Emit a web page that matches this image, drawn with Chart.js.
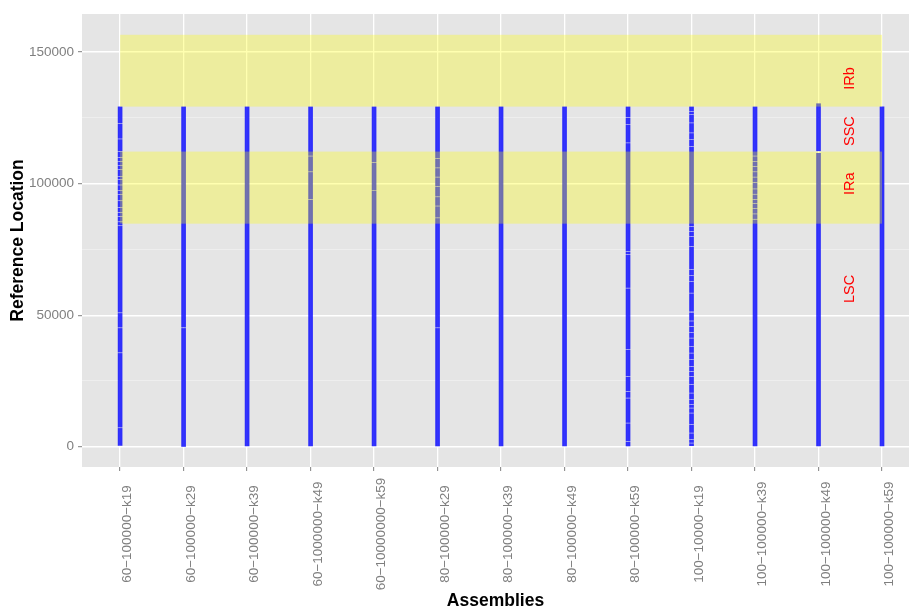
<!DOCTYPE html>
<html>
<head>
<meta charset="utf-8">
<script src="https://cdn.jsdelivr.net/npm/chart.js@4.4.1/dist/chart.umd.min.js"></script>
<style>
  html, body { margin: 0; padding: 0; background: #ffffff; }
  canvas { display: block; }
</style>
</head>
<body>
<canvas id="chart" width="909" height="612"></canvas>
<script>
// Assemblies (k-mer settings) aligned against the chloroplast reference
const assemblies = [
  '60−100000−k19', '60−100000−k29', '60−100000−k39', '60−1000000−k49',
  '60−10000000−k59', '80−100000−k29', '80−100000−k39', '80−100000−k49',
  '80−100000−k59', '100−10000−k19', '100−100000−k39', '100−100000−k49',
  '100−100000−k59'
];

// First and last reference base covered by each assembly
const alignStart = [500, 100, 300, 300, 300, 300, 300, 300, 300, 400, 300, 300, 300];
const alignEnd = [129200, 129200, 129200, 129200, 129200, 129200, 129200, 129200,
                  129200, 129200, 129200, 130400, 129200];

// Reference positions where one contig alignment ends and the next begins
const breaks60k19 = [7200, 35700, 45200, 50900, 84000, 85500, 87500, 89000, 90900, 93500,
                     95800, 97500, 99500, 101500, 102800, 105300, 107000, 108500, 109900,
                     112300, 117000, 122800];
const breaks60k29 = [45200];
const breaks60k39 = [];
const breaks60k49 = [94000, 104500, 110500];
const breaks60k59 = [97500, 108000];
const breaks80k29 = [45200, 87000, 91500, 95000, 99000, 102500, 106000, 109500];
const breaks80k39 = [];
const breaks80k49 = [];
const breaks80k59 = [2000, 9000, 18500, 21000, 26700, 36900, 60300, 73000, 74300, 115500,
                     122400, 125100];
const breaks100k19 = [1400, 2700, 5200, 8400, 12800, 14700, 16000, 17900, 20400, 23600,
                      26700, 28600, 30500, 33100, 35600, 38200, 41300, 43500, 45700, 47800,
                      58400, 62900, 65000, 67300, 76200, 80000, 81900, 83800, 114200, 116700,
                      119300, 123100, 126200, 127500];
const breaks100k39 = [86500, 88500, 90500, 92500, 94000, 96000, 98000, 100500, 102500,
                      104500, 106500, 108500, 110500];
const breaks100k49 = [];
const breaks100k59 = [];
const contigBreaks = [breaks60k19, breaks60k29, breaks60k39, breaks60k49, breaks60k59,
                      breaks80k29, breaks80k39, breaks80k49, breaks80k59, breaks100k19,
                      breaks100k39, breaks100k49, breaks100k59];

// Stretches of the reference left uncovered inside an assembly's span
const unalignedAssembly = [9, 11];        // index into assemblies
const unalignedFrom = [50900, 111500];
const unalignedTo = [51500, 112500];

// Chloroplast genome regions
const regionNames = ['LSC', 'IRa', 'SSC', 'IRb'];
const regionStart = [0, 84800, 112200, 129300];
const regionEnd = [84800, 112200, 129300, 156600];
const shadedRegions = ['IRa', 'IRb'];
const regionLabelY = [60000, 100000, 120000, 140000];
const regionLabelX = 12.5;

// Axis ticks
const yMajorTicks = [0, 50000, 100000, 150000];
const yMinorTicks = [25000, 75000, 125000];

// ---- build the aligned blocks as floating bars ----
const BREAK_GAP = 450;   // visual separation drawn at a contig boundary
const segments = [];
assemblies.forEach((name, i) => {
  let blocks = [[alignStart[i], alignEnd[i]]];
  unalignedAssembly.forEach((a, u) => {
    if (a !== i) return;
    const next = [];
    blocks.forEach(([s, e]) => {
      if (unalignedTo[u] <= s || unalignedFrom[u] >= e) { next.push([s, e]); return; }
      if (unalignedFrom[u] > s) next.push([s, unalignedFrom[u]]);
      if (unalignedTo[u] < e) next.push([unalignedTo[u], e]);
    });
    blocks = next;
  });
  blocks.forEach(([s, e]) => {
    const pts = [s, ...contigBreaks[i].filter(b => b > s && b < e), e];
    for (let k = 0; k < pts.length - 1; k++) {
      const a = k === 0 ? pts[k] : pts[k] + BREAK_GAP / 2;
      const b = k === pts.length - 2 ? pts[k + 1] : pts[k + 1] - BREAK_GAP / 2;
      segments.push({ x: i + 1, y: [a, b] });
    }
  });
});

const FONT = '"Liberation Sans", Arial, Helvetica, sans-serif';
const GREY_TEXT = '#7F7F7F';

const panelBackground = {
  id: 'panelBackground',
  beforeDraw(chart) {
    const { ctx, chartArea: a } = chart;
    ctx.save();
    ctx.fillStyle = '#E5E5E5';
    ctx.fillRect(a.left, a.top, a.right - a.left, a.bottom - a.top);
    ctx.restore();
  }
};

const regionBands = {
  id: 'regionBands',
  afterDatasetsDraw(chart) {
    const { ctx, chartArea: a, scales: { x, y } } = chart;
    const x0 = x.getPixelForValue(1);
    const x1 = x.getPixelForValue(assemblies.length);
    ctx.save();
    ctx.beginPath();
    ctx.rect(a.left, a.top, a.right - a.left, a.bottom - a.top);
    ctx.clip();
    ctx.fillStyle = 'rgba(255, 255, 0, 0.31)';
    regionNames.forEach((r, i) => {
      if (!shadedRegions.includes(r)) return;
      const yTop = y.getPixelForValue(regionEnd[i]);
      const yBot = y.getPixelForValue(regionStart[i]);
      ctx.fillRect(x0, yTop, x1 - x0, yBot - yTop);
    });
    ctx.restore();
  }
};

const annotations = {
  id: 'annotations',
  afterDraw(chart) {
    const { ctx, chartArea: a, scales: { x, y } } = chart;
    ctx.save();
    // region names
    ctx.fillStyle = '#FF0000';
    ctx.font = '14.5px ' + FONT;
    ctx.textAlign = 'center';
    ctx.textBaseline = 'middle';
    regionNames.forEach((r, i) => {
      ctx.save();
      ctx.translate(x.getPixelForValue(regionLabelX), y.getPixelForValue(regionLabelY[i]));
      ctx.rotate(-Math.PI / 2);
      ctx.fillText(r, 0, 0);
      ctx.restore();
    });
    // assembly names under the x axis, vertical
    ctx.fillStyle = GREY_TEXT;
    ctx.font = '13.5px ' + FONT;
    ctx.textAlign = 'center';
    ctx.textBaseline = 'alphabetic';
    assemblies.forEach((name, i) => {
      ctx.save();
      ctx.translate(x.getPixelForValue(i + 1) + 11, a.bottom + 67);
      ctx.rotate(-Math.PI / 2);
      ctx.fillText(name, 0, 0);
      ctx.restore();
    });
    ctx.restore();
  }
};

const isMajor = v => yMajorTicks.includes(v);

new Chart(document.getElementById('chart'), {
  type: 'bar',
  data: {
    datasets: [{
      data: segments,
      backgroundColor: 'rgba(0, 0, 255, 0.8)',
      borderWidth: 0,
      barThickness: 4,
      grouped: false
    }]
  },
  options: {
    responsive: false,
    animation: false,
    devicePixelRatio: 1,
    layout: { padding: { top: 14, right: 0, bottom: 0, left: 0 } },
    plugins: { legend: { display: false }, tooltip: { enabled: false } },
    scales: {
      x: {
        type: 'linear',
        min: 0.4,
        max: 13.425,
        offset: false,
        afterBuildTicks: s => { s.ticks = assemblies.map((_, i) => ({ value: i + 1 })); },
        afterFit: s => { s.height = 145; },
        ticks: { display: false },
        grid: {
          offset: false,
          color: '#FFFFFF',
          lineWidth: 1.3,
          drawTicks: true,
          tickLength: 4,
          tickWidth: 1,
          tickColor: GREY_TEXT
        },
        border: { display: false },
        title: {
          display: true,
          text: 'Assemblies',
          color: '#000000',
          font: { family: FONT, size: 17.5, weight: 'bold' },
          padding: { top: 0, bottom: 0 }
        }
      },
      y: {
        type: 'linear',
        min: -7700,
        max: 164500,
        afterBuildTicks: s => {
          s.ticks = [...yMajorTicks, ...yMinorTicks].sort((p, q) => p - q).map(v => ({ value: v }));
        },
        afterFit: s => { s.width = 82; },
        ticks: {
          autoSkip: false,
          padding: 4,
          color: GREY_TEXT,
          font: { family: FONT, size: 13.5 },
          callback: v => (isMajor(v) ? String(v) : '')
        },
        grid: {
          color: c => (c.tick && isMajor(c.tick.value) ? '#FFFFFF' : '#F2F2F2'),
          lineWidth: c => (c.tick && isMajor(c.tick.value) ? 1.4 : 0.7),
          drawTicks: true,
          tickLength: 4,
          tickWidth: 1,
          tickColor: c => (c.tick && isMajor(c.tick.value) ? GREY_TEXT : 'rgba(0,0,0,0)')
        },
        border: { display: false },
        title: {
          display: true,
          text: 'Reference Location',
          color: '#000000',
          font: { family: FONT, size: 17.5, weight: 'bold' },
          padding: { top: 8, bottom: 0 }
        }
      }
    }
  },
  plugins: [panelBackground, regionBands, annotations]
});
</script>
</body>
</html>
